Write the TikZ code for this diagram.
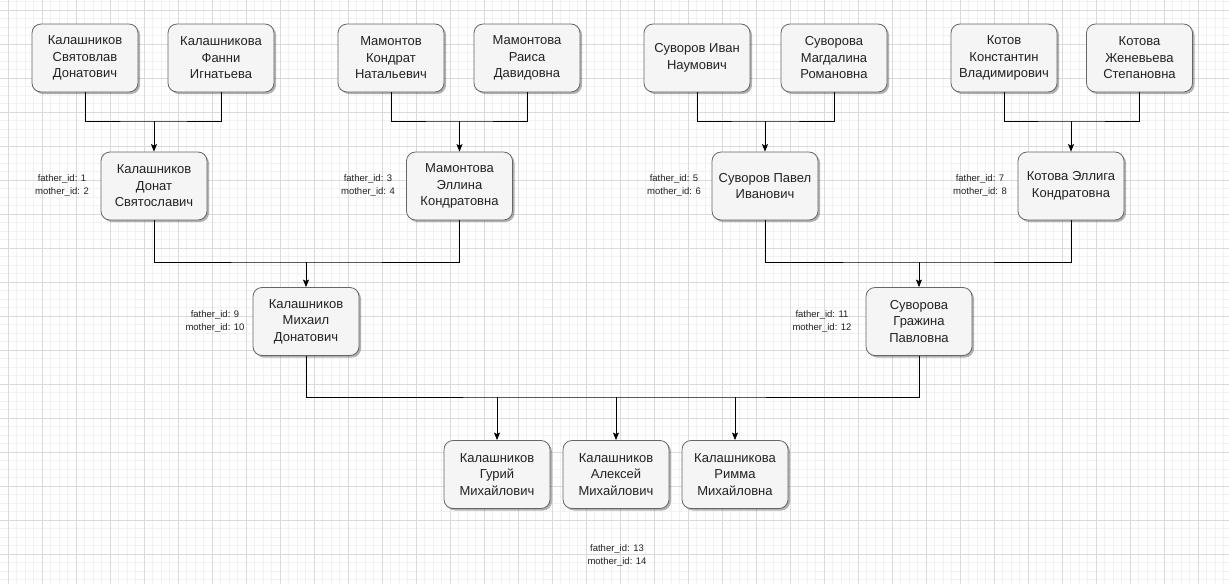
\documentclass[tikz,border=0pt]{standalone}
\usepackage{fontspec}
\setmainfont{Liberation Sans}
\usepackage{xcolor}
\usepackage{tikz}
\usetikzlibrary{arrows.meta,shadows}
\definecolor{boxfill}{HTML}{F5F5F5}
\definecolor{boxline}{HTML}{666666}
\definecolor{boxtext}{HTML}{222222}
\definecolor{gridminor}{HTML}{F1F1F1}
\definecolor{gridmajor}{HTML}{DADADA}

\begin{document}
\begin{tikzpicture}[x=1pt,y=-1pt,>={Stealth[length=7.5pt,width=6pt,inset=1.5pt]},line width=0.9pt,
	person/.style={draw=boxline,fill=boxfill,text=boxtext,rounded corners=9pt,line width=0.8pt,
		minimum width=106pt,minimum height=68pt,inner sep=2pt,align=center,
		font=\fontsize{13}{16.5}\selectfont,
		drop shadow={shadow xshift=2pt,shadow yshift=-2pt,opacity=0.3,fill=black}},
	ids/.style={align=center,inner sep=0pt,text=boxtext,font=\fontsize{9.5}{13}\selectfont}]
	\useasboundingbox (0,0) rectangle (1229,584);
	\fill[white] (0,0) rectangle (1229,584);
	% grid
	\foreach \x in {8,16.5,...,1229} \draw[gridminor,line width=0.6pt] (\x,0) -- (\x,584);
	\foreach \y in {1.5,10,...,584} \draw[gridminor,line width=0.6pt] (0,\y) -- (1229,\y);
	\foreach \x in {8,42,...,1229} \draw[gridmajor,line width=0.6pt] (\x,0) -- (\x,584);
	\foreach \y in {10,44,...,584} \draw[gridmajor,line width=0.6pt] (0,\y) -- (1229,\y);

	% grandparents
	\node[person] (p1) at (85,58) {Калашников\\Святовлав\\Донатович};
	\node[person] (p2) at (221,58) {Калашникова\\Фанни\\Игнатьева};
	\node[person] (p3) at (391,58) {Мамонтов\\Кондрат\\Натальевич};
	\node[person] (p4) at (527,58) {Мамонтова\\Раиса\\Давидовна};
	\node[person] (p5) at (697,58) {Суворов Иван\\Наумович};
	\node[person] (p6) at (834,58) {Суворова\\Магдалина\\Романовна};
	\node[person] (p7) at (1004,58) {Котов\\Константин\\Владимирович};
	\node[person] (p8) at (1139.5,58) {Котова\\Женевьева\\Степановна};

	% parents of parents
	\node[person] (p9) at (154,186) {Калашников\\Донат\\Святославич};
	\node[person] (p10) at (459.5,186) {Мамонтова\\Эллина\\Кондратовна};
	\node[person] (p11) at (765,186) {Суворов Павел\\Иванович};
	\node[person] (p12) at (1071,186) {Котова Эллига\\Кондратовна};

	% parents
	\node[person] (p13) at (306,321.5) {Калашников\\Михаил\\Донатович};
	\node[person] (p14) at (919,321.5) {Суворова\\Гражина\\Павловна};

	% children
	\node[person] (p15) at (497,474.5) {Калашников\\Гурий\\Михайлович};
	\node[person] (p16) at (616,474.5) {Калашников\\Алексей\\Михайлович};
	\node[person] (p17) at (735,474.5) {Калашникова\\Римма\\Михайловна};

	% id labels
	\node[ids] (id9) at (62,185.5) {father\_id: 1\\mother\_id: 2};
	\node[ids] (id10) at (368,185.5) {father\_id: 3\\mother\_id: 4};
	\node[ids] (id11) at (674,185.5) {father\_id: 5\\mother\_id: 6};
	\node[ids] (id12) at (980,185.5) {father\_id: 7\\mother\_id: 8};
	\node[ids] (id13) at (215,321.5) {father\_id: 9\\mother\_id: 10};
	\node[ids] (id14) at (822,321.5) {father\_id: 11\\mother\_id: 12};
	\node[ids] (id15) at (617,555.5) {father\_id: 13\\mother\_id: 14};

	% joints
	\coordinate (j9) at (154,121);
	\coordinate (j10) at (459.5,121);
	\coordinate (j11) at (765,121);
	\coordinate (j12) at (1071,121);
	\coordinate (j13) at (306,262);
	\coordinate (j14) at (919,262);
	\coordinate (j15) at (616,397);

	\draw (p1) |- (j9) -| (p2);
	\draw (p3) |- (j10) -| (p4);
	\draw (p5) |- (j11) -| (p6);
	\draw (p7) |- (j12) -| (p8);
	\draw (p9) |- (j13) -| (p10);
	\draw (p11) |- (j14) -| (p12);
	\draw (p13) |- (j15) -| (p14);

	\foreach \c in {9,10,11,12,13,14}
		\draw[->] (j\c) -- (p\c);
	\foreach \c in {15,16,17}
		\draw[->] (p\c |- j15) -- (p\c);
\end{tikzpicture}
\end{document}
